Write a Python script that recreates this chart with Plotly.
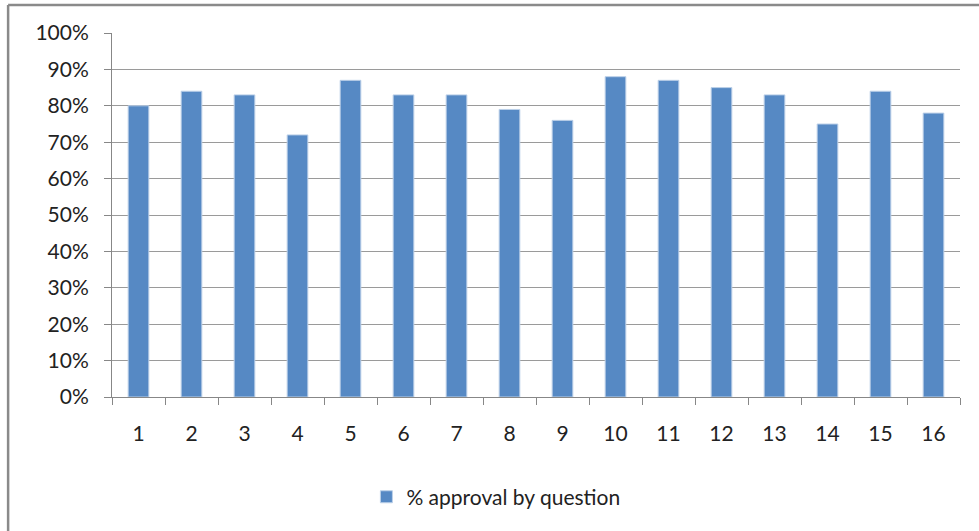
import plotly.graph_objects as go

# Approval rate per survey question
questions = [str(i) for i in range(1, 17)]
approval = [0.80, 0.84, 0.83, 0.72, 0.87, 0.83, 0.83, 0.79,
            0.76, 0.88, 0.87, 0.85, 0.83, 0.75, 0.84, 0.78]
series_name = "% approval by question"
y_ticks = [i / 10 for i in range(11)]
y_tick_labels = [f"{i * 10}%" for i in range(11)]

FONT = "Lato, 'Open Sans', sans-serif"
TEXT_SIZE = 21
AXIS_GREY = "#878787"
BAR_BLUE = "#5689c4"

fig = go.Figure()
fig.add_trace(go.Bar(
    x=questions,
    y=approval,
    name=series_name,
    marker=dict(color=BAR_BLUE, line=dict(color="#bcd0e8", width=1)),
    width=0.39,
    showlegend=True,
))

fig.update_layout(
    width=979,
    height=531,
    margin=dict(l=112, r=19, t=33, b=134),
    paper_bgcolor="white",
    plot_bgcolor="white",
    font=dict(family=FONT, size=TEXT_SIZE, color="#222222"),
    showlegend=True,
    legend=dict(
        orientation="h",
        x=0.300, xanchor="left",
        y=-0.275, yanchor="middle",
        font=dict(family=FONT, size=TEXT_SIZE, color="#222222"),
        itemwidth=30,
    ),
    xaxis=dict(
        type="category",
        tickson="boundaries",
        ticks="outside",
        ticklen=7,
        tickcolor=AXIS_GREY,
        showgrid=False,
        showline=True,
        linecolor=AXIS_GREY,
        linewidth=1,
        ticklabelstandoff=18,
        tickfont=dict(family=FONT, size=TEXT_SIZE, color="#222222"),
    ),
    yaxis=dict(
        range=[0, 1],
        tickvals=y_ticks,
        ticktext=y_tick_labels,
        ticks="outside",
        ticklen=7,
        tickcolor=AXIS_GREY,
        showgrid=True,
        gridcolor="#9a9a9a",
        gridwidth=1,
        showline=True,
        linecolor=AXIS_GREY,
        linewidth=1,
        zeroline=False,
        ticklabelstandoff=11,
        tickfont=dict(family=FONT, size=TEXT_SIZE, color="#222222"),
    ),
    bargap=0.61,
)

# Chart-area frame: only its left and top edges fall inside the page
frame = dict(type="line", xref="paper", yref="paper",
             line=dict(color="#8a8a8a", width=2.5), layer="above")
fig.add_shape(x0=-0.1225, x1=-0.1225, y0=1.077, y1=-0.40, **frame)
fig.add_shape(x0=-0.1225, x1=1.05, y0=1.077, y1=1.077, **frame)

fig.write_html("out.html")
